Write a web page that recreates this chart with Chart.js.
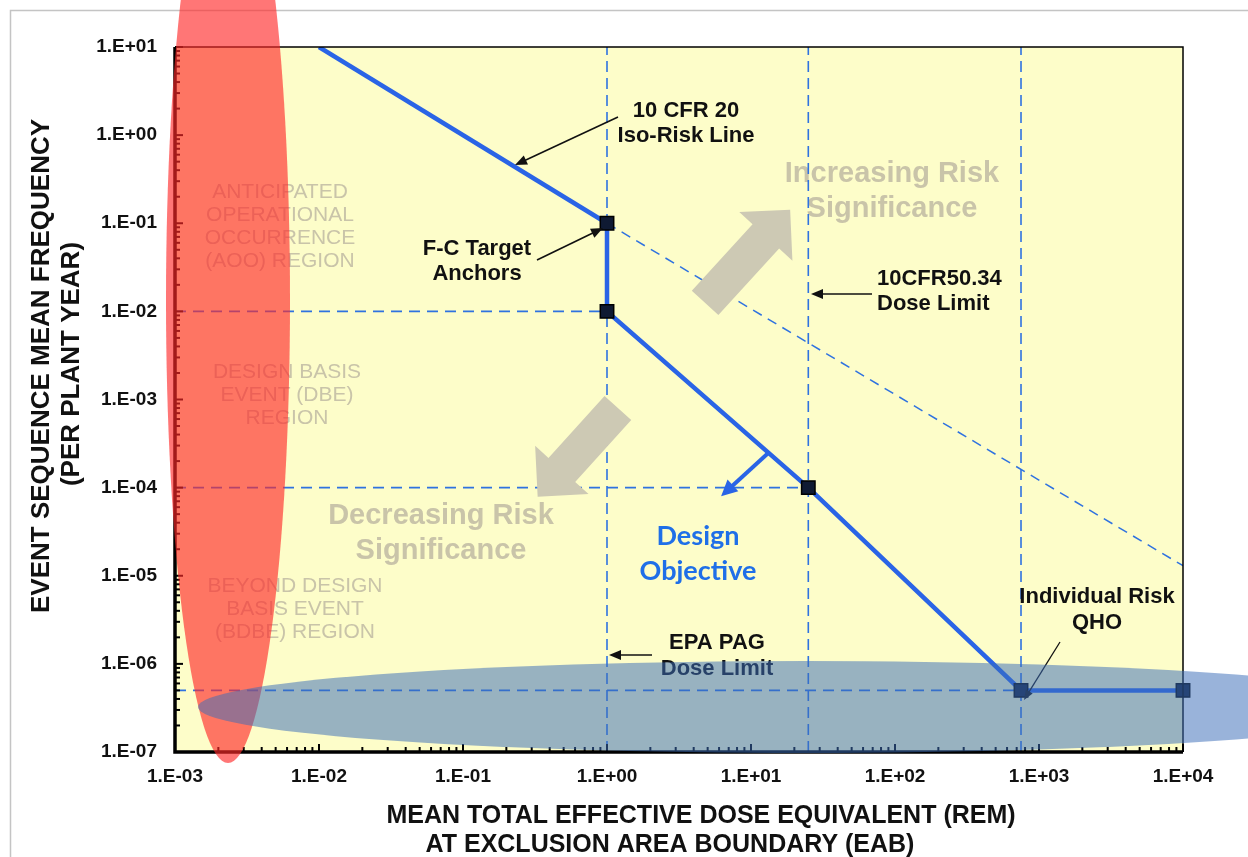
<!DOCTYPE html>
<html>
<head>
<meta charset="utf-8">
<script src="https://cdn.jsdelivr.net/npm/chart.js@4.4.0/dist/chart.umd.min.js"></script>
<style>
  html, body { margin: 0; padding: 0; background: #fff; }
  #wrap { width: 1248px; height: 857px; position: relative; }
</style>
</head>
<body>
<div id="wrap"><canvas id="fcChart"></canvas></div>
<script>
// Frequency-consequence target, log-log
const isoRiskDose = [0.01, 1];
const isoRiskFreq = [10, 0.1];
const isoExtDose = [1, 1e4];
const isoExtFreq = [0.1, 1.3e-5];

const anchorDose = [1, 1, 25, 750, 1e4];
const anchorFreq = [0.1, 0.01, 1e-4, 5e-7, 5e-7];

// dose limits (vertical) and the frequency lines that run out to them
const doseLimits = [1, 25, 750];
const freqLimits = [1e-2, 1e-4, 5e-7];

// perpendicular "design objective" pointer off the F-C curve
const pointerDose = [13.3, 6.2];
const pointerFreq = [2.5e-4, 8e-5];

// big shaded direction arrows: [tail, tip]
const upArrowDose = [4.8, 18.7];
const upArrowFreq = [0.0125, 0.142];
const downArrowDose = [1.19, 0.33];
const downArrowFreq = [8.0e-4, 7.9e-5];

const xDecades = [-3, 4];
const yDecades = [-7, 1];

const BLUE = '#2a64e6';
const DASH_BLUE = '#2f72e0';
const SHADE = '#c9c4a9';
const ARROW_SHADE = '#cdc9b4';
const ARIAL = '"Liberation Sans", Arial, sans-serif';

const pts = (xs, ys) => xs.map((x, i) => ({ x: x, y: ys[i] }));

function logTicks(lo, hi) {
  const out = [];
  for (let e = lo; e < hi; e++) {
    for (let m = 1; m < 10; m++) out.push({ value: m * Math.pow(10, e) });
  }
  out.push({ value: Math.pow(10, hi) });
  return out;
}
function isDecade(v) {
  const l = Math.log10(v);
  return Math.abs(l - Math.round(l)) < 1e-9;
}
function sciLabel(v) {
  if (!isDecade(v)) return '';
  const e = Math.round(Math.log10(v));
  return '1.E' + (e < 0 ? '-' : '+') + String(Math.abs(e)).padStart(2, '0');
}

const datasets = [
  {
    label: 'Design objective',
    data: pts(anchorDose, anchorFreq),
    showLine: true, borderColor: BLUE, borderWidth: 4.5,
    pointStyle: 'rect', pointRadius: 9.5, pointBorderWidth: 1.5,
    pointBackgroundColor: '#0f1a33', pointBorderColor: '#000',
    clip: false
  },
  {
    label: '10 CFR 20 iso-risk',
    data: pts(isoRiskDose, isoRiskFreq),
    showLine: true, borderColor: BLUE, borderWidth: 4.5, pointRadius: 0
  },
  {
    label: 'iso-risk extension',
    data: pts(isoExtDose, isoExtFreq),
    showLine: true, borderColor: DASH_BLUE, borderWidth: 1.5, borderDash: [10, 7], pointRadius: 0
  }
];
doseLimits.forEach((d) => {
  datasets.push({
    label: 'dose ' + d,
    data: [{ x: d, y: Math.pow(10, yDecades[0]) }, { x: d, y: Math.pow(10, yDecades[1]) }],
    showLine: true, borderColor: DASH_BLUE, borderWidth: 1.6, borderDash: [11, 6], pointRadius: 0
  });
});
freqLimits.forEach((f, i) => {
  datasets.push({
    label: 'freq ' + f,
    data: [{ x: Math.pow(10, xDecades[0]), y: f }, { x: doseLimits[i], y: f }],
    showLine: true, borderColor: DASH_BLUE, borderWidth: 1.6, borderDash: [11, 7], pointRadius: 0
  });
});

function arrowLine(ctx, x1, y1, x2, y2, color, lw, head, half) {
  const ang = Math.atan2(y2 - y1, x2 - x1);
  ctx.save();
  ctx.strokeStyle = color; ctx.fillStyle = color; ctx.lineWidth = lw;
  ctx.beginPath();
  ctx.moveTo(x1, y1);
  ctx.lineTo(x2 - Math.cos(ang) * head * 0.8, y2 - Math.sin(ang) * head * 0.8);
  ctx.stroke();
  ctx.beginPath();
  ctx.moveTo(x2, y2);
  ctx.lineTo(x2 - Math.cos(ang) * head - Math.sin(ang) * half, y2 - Math.sin(ang) * head + Math.cos(ang) * half);
  ctx.lineTo(x2 - Math.cos(ang) * head + Math.sin(ang) * half, y2 - Math.sin(ang) * head - Math.cos(ang) * half);
  ctx.closePath();
  ctx.fill();
  ctx.restore();
}

function blockArrow(ctx, x1, y1, x2, y2, shaftHalf, headHalf, headLen, color) {
  const ang = Math.atan2(y2 - y1, x2 - x1);
  const len = Math.hypot(x2 - x1, y2 - y1);
  ctx.save();
  ctx.translate(x1, y1);
  ctx.rotate(ang);
  ctx.fillStyle = color;
  ctx.beginPath();
  ctx.moveTo(0, -shaftHalf);
  ctx.lineTo(len - headLen, -shaftHalf);
  ctx.lineTo(len - headLen, -headHalf);
  ctx.lineTo(len, 0);
  ctx.lineTo(len - headLen, headHalf);
  ctx.lineTo(len - headLen, shaftHalf);
  ctx.lineTo(0, shaftHalf);
  ctx.closePath();
  ctx.fill();
  ctx.restore();
}

function lines(ctx, arr, x, y0, step, align) {
  ctx.textAlign = align || 'center';
  ctx.textBaseline = 'middle';
  arr.forEach((t, i) => ctx.fillText(t, x, y0 + i * step));
}

const fcPlugin = {
  id: 'fcPlugin',
  beforeDraw(chart) {
    const { ctx, chartArea: a } = chart;
    ctx.save();
    ctx.fillStyle = '#fff';
    ctx.fillRect(0, 0, chart.width, chart.height);
    ctx.strokeStyle = '#c4c4c4';
    ctx.lineWidth = 1.5;
    ctx.strokeRect(10.5, 10.5, chart.width + 20, chart.height + 20);
    ctx.fillStyle = '#fdfdc9';
    ctx.fillRect(a.left, a.top, a.right - a.left, a.bottom - a.top);

    // axis titles
    ctx.fillStyle = '#111';
    ctx.font = 'bold 25px ' + ARIAL;
    ctx.textAlign = 'center';
    ctx.textBaseline = 'middle';
    ctx.fillText('MEAN TOTAL EFFECTIVE DOSE EQUIVALENT (REM)', 701, 816);
    ctx.fillText('AT EXCLUSION AREA BOUNDARY (EAB)', 670, 845);
    ctx.font = 'bold 26px ' + ARIAL;
    ctx.save();
    ctx.translate(42, 366);
    ctx.rotate(-Math.PI / 2);
    ctx.fillText('EVENT SEQUENCE MEAN FREQUENCY', 0, 0);
    ctx.restore();
    ctx.save();
    ctx.translate(72, 364);
    ctx.rotate(-Math.PI / 2);
    ctx.fillText('(PER PLANT YEAR)', 0, 0);
    ctx.restore();

    // region labels
    ctx.fillStyle = SHADE;
    ctx.font = '21px ' + ARIAL;
    lines(ctx, ['ANTICIPATED', 'OPERATIONAL', 'OCCURRENCE', '(AOO) REGION'], 280, 192, 23);
    lines(ctx, ['DESIGN BASIS', 'EVENT (DBE)', 'REGION'], 287, 372, 23);
    lines(ctx, ['BEYOND DESIGN', 'BASIS EVENT', '(BDBE) REGION'], 295, 586, 23);

    ctx.font = 'bold 29px ' + ARIAL;
    lines(ctx, ['Increasing Risk', 'Significance'], 892, 174, 35);
    lines(ctx, ['Decreasing Risk', 'Significance'], 441, 516, 35);
    ctx.restore();
  },
  afterDatasetsDraw(chart) {
    const { ctx, chartArea: a, scales } = chart;
    const X = (v) => scales.x.getPixelForValue(v);
    const Y = (v) => scales.y.getPixelForValue(v);
    ctx.save();

    // shaded direction arrows
    blockArrow(ctx, X(upArrowDose[0]), Y(upArrowFreq[0]), X(upArrowDose[1]), Y(upArrowFreq[1]), 18, 36, 36, ARROW_SHADE);
    blockArrow(ctx, X(downArrowDose[0]), Y(downArrowFreq[0]), X(downArrowDose[1]), Y(downArrowFreq[1]), 18, 36, 36, ARROW_SHADE);

    // axis frame
    ctx.strokeStyle = '#000';
    ctx.lineWidth = 1.5;
    ctx.beginPath();
    ctx.moveTo(a.left, a.top); ctx.lineTo(a.right, a.top); ctx.lineTo(a.right, a.bottom);
    ctx.stroke();
    ctx.lineWidth = 3.5;
    ctx.beginPath();
    ctx.moveTo(a.left, a.top); ctx.lineTo(a.left, a.bottom); ctx.lineTo(a.right, a.bottom);
    ctx.stroke();

    // inward tick marks
    ctx.lineWidth = 2;
    scales.x.ticks.forEach((t) => {
      const px = X(t.value);
      const len = isDecade(t.value) ? 8 : 5;
      ctx.beginPath(); ctx.moveTo(px, a.bottom); ctx.lineTo(px, a.bottom - len); ctx.stroke();
    });
    scales.y.ticks.forEach((t) => {
      const py = Y(t.value);
      const len = isDecade(t.value) ? 8 : 5;
      ctx.beginPath(); ctx.moveTo(a.left, py); ctx.lineTo(a.left + len, py); ctx.stroke();
    });

    // design objective pointer
    arrowLine(ctx, X(pointerDose[0]), Y(pointerFreq[0]), X(pointerDose[1]), Y(pointerFreq[1]), BLUE, 4, 16, 8);

    // callouts
    ctx.fillStyle = '#111';
    ctx.font = 'bold 22px ' + ARIAL;
    lines(ctx, ['10 CFR 20', 'Iso-Risk Line'], 686, 111, 25);
    lines(ctx, ['F-C Target', 'Anchors'], 477, 249, 25);
    lines(ctx, ['10CFR50.34', 'Dose Limit'], 877, 279, 25, 'left');
    lines(ctx, ['EPA PAG', 'Dose Limit'], 717, 643, 26);
    lines(ctx, ['Individual Risk', 'QHO'], 1097, 597, 26);
    arrowLine(ctx, 618, 117, 515, 165, '#111', 1.6, 12, 5);
    arrowLine(ctx, 537, 260, 603, 228, '#111', 1.6, 12, 5);
    arrowLine(ctx, 872, 294, 811, 294, '#111', 1.6, 12, 5);
    arrowLine(ctx, 652, 655, 609, 655, '#111', 1.6, 12, 5);
    arrowLine(ctx, 1060, 642, 1024, 700, '#111', 1.3, 10, 4);

    ctx.fillStyle = '#1f6fe8';
    ctx.font = 'bold 27px Lato, "Open Sans", sans-serif';
    lines(ctx, ['Design', 'Objective'], 698, 536, 35);
    ctx.restore();
  },
  afterDraw(chart) {
    const { ctx } = chart;
    ctx.save();
    // highlight ovals laid over the figure
    ctx.fillStyle = 'rgba(255, 40, 40, 0.64)';
    ctx.beginPath();
    ctx.ellipse(228, 300, 62, 463, 0, 0, Math.PI * 2);
    ctx.fill();
    ctx.fillStyle = 'rgba(60, 110, 185, 0.52)';
    ctx.beginPath();
    ctx.ellipse(806, 707, 608, 46, 0, 0, Math.PI * 2);
    ctx.fill();
    ctx.restore();
  }
};

new Chart(document.getElementById('fcChart'), {
  type: 'scatter',
  data: { datasets: datasets },
  options: {
    responsive: true,
    maintainAspectRatio: false,
    animation: false,
    layout: { padding: { left: 0, top: 47, right: 65, bottom: 0 } },
    plugins: { legend: { display: false }, tooltip: { enabled: false } },
    scales: {
      x: {
        type: 'logarithmic',
        min: Math.pow(10, xDecades[0]), max: Math.pow(10, xDecades[1]),
        grid: { display: false }, border: { display: false },
        afterBuildTicks: (s) => { s.ticks = logTicks(xDecades[0], xDecades[1]); },
        afterFit: (s) => { s.height = 105; },
        ticks: {
          autoSkip: false, maxRotation: 0, padding: 5, color: '#111',
          font: { family: ARIAL, size: 19, weight: 'bold' },
          callback: (v) => sciLabel(v)
        }
      },
      y: {
        type: 'logarithmic',
        min: Math.pow(10, yDecades[0]), max: Math.pow(10, yDecades[1]),
        grid: { display: false }, border: { display: false },
        afterBuildTicks: (s) => { s.ticks = logTicks(yDecades[0], yDecades[1]); },
        afterFit: (s) => { s.width = 175; },
        ticks: {
          autoSkip: false, padding: 10, color: '#111',
          font: { family: ARIAL, size: 19, weight: 'bold' },
          callback: (v) => sciLabel(v)
        }
      }
    }
  },
  plugins: [fcPlugin]
});
</script>
</body>
</html>
